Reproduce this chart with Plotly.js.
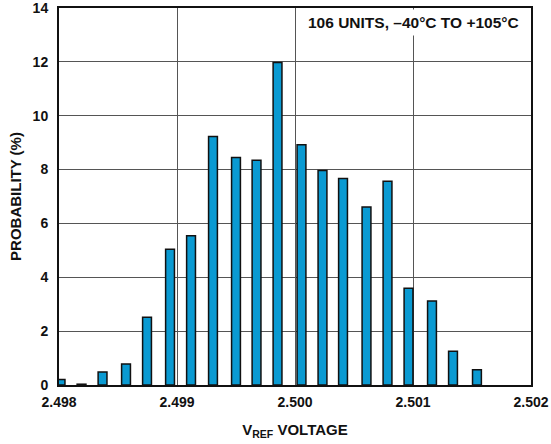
<!DOCTYPE html>
<html>
<head>
<meta charset="utf-8">
<script src="https://cdn.plot.ly/plotly-3.0.1.min.js"></script>
<style>html,body{margin:0;padding:0;background:#fff;}#chart{width:551px;height:444px;}</style>
</head>
<body>
<div id="chart"></div>
<script>
// Bin centres (V) and probability (%)
var voltages = [2.498013, 2.498191, 2.498369, 2.498568, 2.498746, 2.498941, 2.499119, 2.499305, 2.499500, 2.499674,
                2.499852, 2.500055, 2.500233, 2.500407, 2.500606, 2.500784, 2.500962, 2.501161, 2.501339, 2.501542];
var probability = [0.2, 0.03, 0.48, 0.78, 2.52, 5.04, 5.54, 9.23, 8.45, 8.35,
                   11.98, 8.92, 7.97, 7.67, 6.61, 7.57, 3.59, 3.12, 1.25, 0.57];
var xTicks = [2.498, 2.499, 2.500, 2.501, 2.502];
var xTickLabels = ['2.498', '2.499', '2.500', '2.501', '2.502'];
var yTicks = [0, 2, 4, 6, 8, 10, 12, 14];
var noteText = '106 UNITS, \u201340\u00B0C TO +105\u00B0C';

var fam = 'Liberation Sans, Arial, sans-serif';
var tickFont = {family: fam, size: 14, color: '#111', weight: 'bold'};
var titleFont = {family: fam, size: 15, color: '#111', weight: 'bold'};
var noteFont = {family: fam, size: 15.5, color: '#111', weight: 'bold'};

var trace = {
  type: 'bar',
  x: voltages,
  y: probability,
  width: 0.000075,
  marker: {color: '#0a9ad2', line: {color: '#111', width: 1.5}},
  cliponaxis: false,
  hoverinfo: 'none'
};

var layout = {
  width: 551, height: 444,
  margin: {l: 59, r: 20, t: 8, b: 59},
  paper_bgcolor: '#fff', plot_bgcolor: '#fff',
  showlegend: false,
  font: tickFont,
  xaxis: {
    range: [2.498, 2.502],
    tickvals: xTicks, ticktext: xTickLabels,
    showgrid: true, gridcolor: '#555', gridwidth: 1,
    showline: true, mirror: true, linecolor: '#111', linewidth: 2,
    ticks: 'outside', ticklen: 3, tickcolor: 'rgba(0,0,0,0)',
    zeroline: false, ticklabeloverflow: 'allow',
    tickfont: tickFont,
    title: {text: 'V<sub>REF</sub> VOLTAGE', font: titleFont, standoff: 16}
  },
  yaxis: {
    range: [0, 14],
    tickvals: yTicks,
    showgrid: true, gridcolor: '#555', gridwidth: 1,
    showline: true, mirror: true, linecolor: '#111', linewidth: 2,
    ticks: 'outside', ticklen: 6, tickcolor: 'rgba(0,0,0,0)',
    zeroline: false, ticklabeloverflow: 'allow',
    tickfont: tickFont,
    title: {text: 'PROBABILITY (%)', font: titleFont, standoff: 7}
  },
  annotations: [{
    text: noteText,
    xref: 'paper', yref: 'paper',
    x: 0.985, y: 0.997, xanchor: 'right', yanchor: 'top',
    showarrow: false,
    bgcolor: '#fff',
    borderpad: 4,
    font: noteFont
  }]
};

Plotly.newPlot('chart', [trace], layout, {staticPlot: true, displayModeBar: false});
</script>
</body>
</html>
